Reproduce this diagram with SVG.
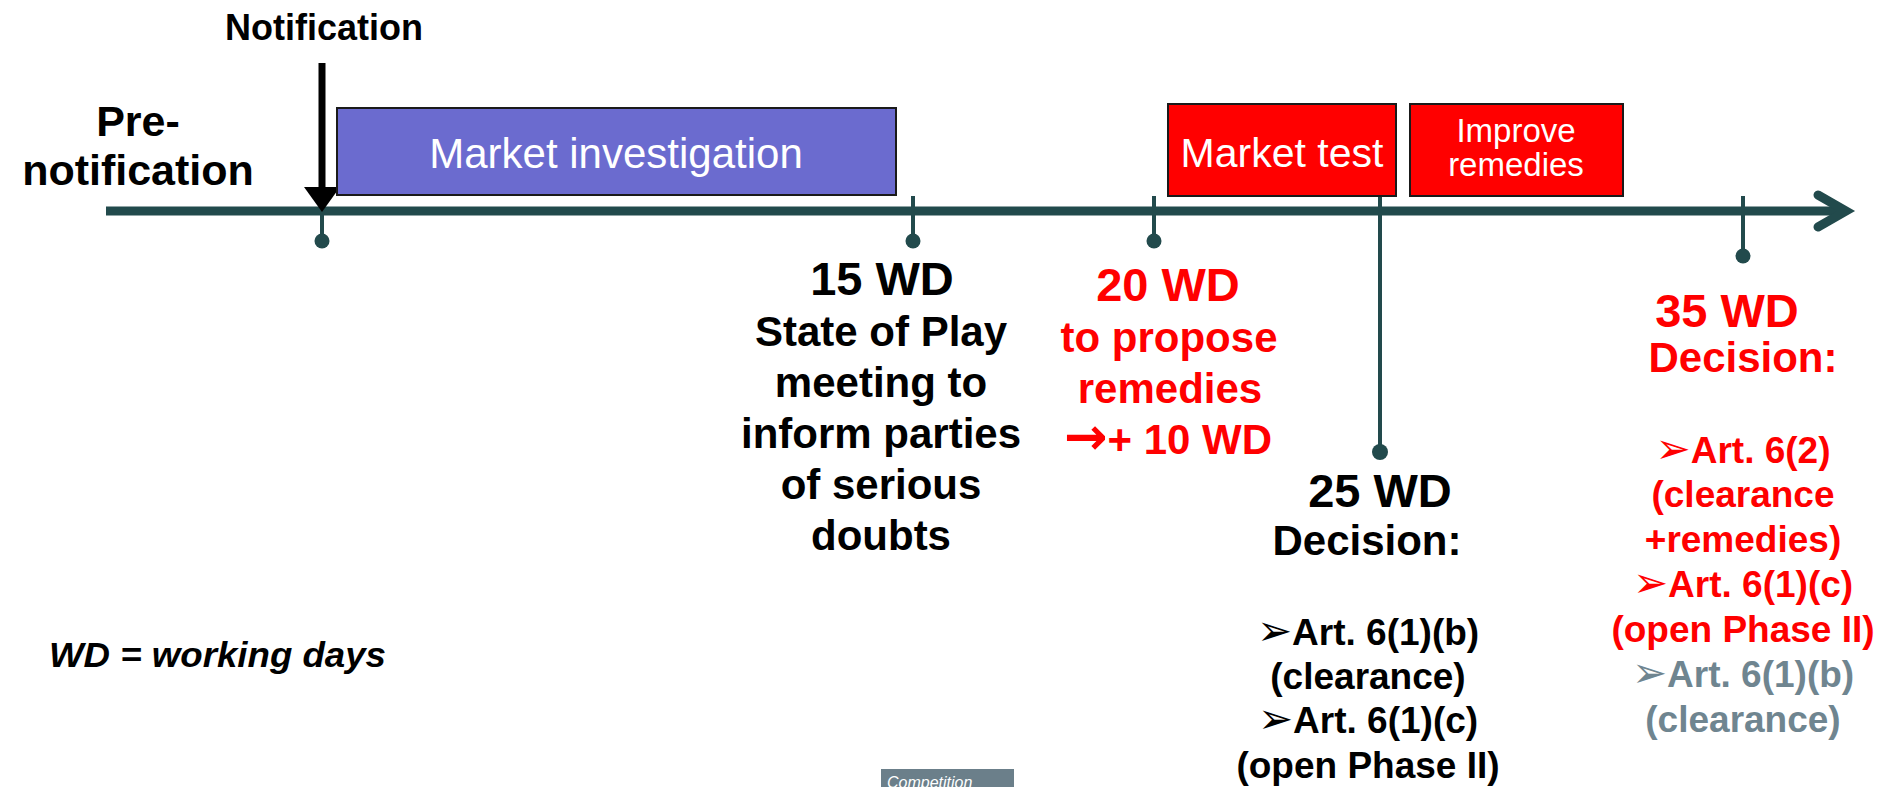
<svg xmlns="http://www.w3.org/2000/svg" width="1879" height="787" viewBox="0 0 1879 787">
<defs>
<style>
text{font-family:"Liberation Sans",Arial,"DejaVu Sans",sans-serif;}
.b{font-weight:bold;}
.c{text-anchor:middle;}
.k{fill:#000000;}
.r{fill:#FF0000;}
.g{fill:#6F8590;}
.w{fill:#FFFFFF;}
.t42{font-size:42px;}
.t44{font-size:47px;}
.t37{font-size:37px;}
.sym{font-family:"DejaVu Sans",sans-serif;font-weight:bold;}
.bul{font-family:"DejaVu Sans",sans-serif;font-weight:bold;font-size:42px;}
.box{stroke:#1a1a1a;stroke-width:2;}
.axis{stroke:#224A4C;fill:none;}
.dot{fill:#224A4C;}
</style>
</defs>
<rect width="1879" height="787" fill="#FFFFFF"/>

<g id="connectors">
  <line class="axis" x1="106" y1="211" x2="1840" y2="211" stroke-width="9"/>
  <polyline class="axis" points="1818,195 1846,211 1818,227" stroke-width="9" stroke-linecap="round" stroke-linejoin="miter"/>
  <line class="axis" x1="322" y1="196" x2="322" y2="240" stroke-width="4"/>
  <circle class="dot" cx="322" cy="241" r="7.5"/>
  <line class="axis" x1="913" y1="196" x2="913" y2="240" stroke-width="4"/>
  <circle class="dot" cx="913" cy="241" r="7.5"/>
  <line class="axis" x1="1154" y1="196" x2="1154" y2="240" stroke-width="4"/>
  <circle class="dot" cx="1154" cy="241" r="7.5"/>
  <line class="axis" x1="1380" y1="196" x2="1380" y2="451" stroke-width="4"/>
  <circle class="dot" cx="1380" cy="452" r="8"/>
  <line class="axis" x1="1743" y1="196" x2="1743" y2="255" stroke-width="4"/>
  <circle class="dot" cx="1743" cy="256" r="7.5"/>
</g>

<g id="pre-notification">
  <text class="b c k" font-size="43" x="138" y="136">Pre-</text>
  <text class="b c k" font-size="43" x="138" y="185">notification</text>
</g>

<g id="notification">
  <text class="b c k" font-size="36" x="324" y="40">Notification</text>
  <line x1="322" y1="63" x2="322" y2="190" stroke="#000000" stroke-width="7"/>
  <polygon points="304,187 340,187 322,212" fill="#000000"/>
</g>

<g id="market-investigation">
  <rect class="box" x="337" y="108" width="559" height="87" fill="#6B6BCF"/>
  <text class="c w" font-size="42" x="616" y="168">Market investigation</text>
</g>

<g id="market-test">
  <rect class="box" x="1168" y="104" width="228" height="92" fill="#FF0000"/>
  <text class="c w" font-size="41" x="1282" y="167">Market test</text>
</g>

<g id="improve-remedies">
  <rect class="box" x="1410" y="104" width="213" height="92" fill="#FF0000"/>
  <text class="c w" font-size="33" x="1516" y="142">Improve</text>
  <text class="c w" font-size="33" x="1516" y="176">remedies</text>
</g>

<g id="milestone-15wd">
  <text class="b c k t44" x="882" y="295">15 WD</text>
  <text class="b c k t42" x="881" y="346">State of Play</text>
  <text class="b c k t42" x="881" y="397">meeting to</text>
  <text class="b c k t42" x="881" y="448">inform parties</text>
  <text class="b c k t42" x="881" y="499">of serious</text>
  <text class="b c k t42" x="881" y="550">doubts</text>
</g>

<g id="milestone-20wd">
  <text class="b c r t44" x="1168" y="301">20 WD</text>
  <text class="b c r t42" x="1169" y="352">to propose</text>
  <text class="b c r t42" x="1170" y="403">remedies</text>
  <text class="b c r t42" x="1168" y="454"><tspan class="sym" font-size="52">→</tspan>+ 10 WD</text>
</g>

<g id="milestone-25wd">
  <text class="b c k t44" x="1380" y="507">25 WD</text>
  <text class="b c k t42" x="1367" y="555">Decision:</text>
  <text class="b c k t37" x="1368" y="645"><tspan class="bul">➢</tspan>Art. 6(1)(b)</text>
  <text class="b c k t37" x="1368" y="689">(clearance)</text>
  <text class="b c k t37" x="1368" y="733"><tspan class="bul">➢</tspan>Art. 6(1)(c)</text>
  <text class="b c k t37" x="1368" y="778">(open Phase II)</text>
</g>

<g id="milestone-35wd">
  <text class="b c r t44" x="1727" y="327">35 WD</text>
  <text class="b c r t42" x="1743" y="372">Decision:</text>
  <text class="b c r t37" x="1743" y="463"><tspan class="bul">➢</tspan>Art. 6(2)</text>
  <text class="b c r t37" x="1743" y="507">(clearance</text>
  <text class="b c r t37" x="1743" y="552">+remedies)</text>
  <text class="b c r t37" x="1743" y="597"><tspan class="bul">➢</tspan>Art. 6(1)(c)</text>
  <text class="b c r t37" x="1743" y="642">(open Phase II)</text>
  <text class="b c g t37" x="1743" y="687"><tspan class="bul">➢</tspan>Art. 6(1)(b)</text>
  <text class="b c g t37" x="1743" y="732">(clearance)</text>
</g>

<g id="legend">
  <text class="b k" font-size="35" font-style="italic" x="49" y="667" textLength="337" lengthAdjust="spacingAndGlyphs">WD = working days</text>
</g>

<g id="competition-tab">
  <rect x="881" y="769" width="133" height="20" fill="#6B7F8A"/>
  <text class="w" font-size="16" font-style="italic" x="887" y="788">Competition</text>
</g>
</svg>
